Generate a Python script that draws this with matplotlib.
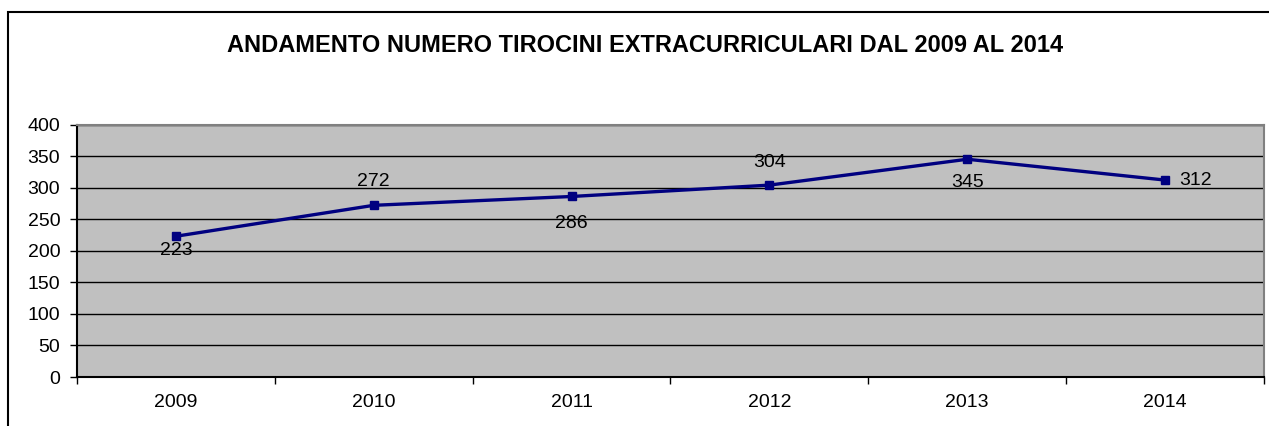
import matplotlib.pyplot as plt
from matplotlib.patches import Rectangle

years = ['2009', '2010', '2011', '2012', '2013', '2014']
tirocini = [223, 272, 286, 304, 345, 312]

# scostamento etichette (pixel): positivo = sotto il punto
label_dy = [14, -24, 27, -23, 23, 0]

plt.rcParams['font.family'] = ['Liberation Sans', 'DejaVu Sans']

fig = plt.figure(figsize=(12.69, 4.26), dpi=100)
# cornice del grafico
fig.patches.append(Rectangle((8 / 1269, -0.1), 1.2, 1.1 - 12 / 426,
                             transform=fig.transFigure, fill=False,
                             edgecolor='black', linewidth=1.5))

ax = fig.add_axes([77 / 1269, 0.115, (1264 - 77) / 1269, 0.7077 - 0.115])
ax.set_facecolor('#C0C0C0')

x = list(range(len(years)))
ax.plot(x, tirocini, color='#000080', linewidth=2.4, marker='s',
        markersize=6, zorder=3)

for xi, v, dy in zip(x, tirocini, label_dy):
    if dy == 0:
        ax.annotate(str(v), (xi, v), xytext=(14, 0), textcoords='offset pixels',
                    ha='left', va='center', fontsize=14)
    else:
        ax.annotate(str(v), (xi, v), xytext=(0, -dy), textcoords='offset pixels',
                    ha='center', va='center', fontsize=14)

ax.set_xlim(-0.5, len(years) - 0.5)
ax.set_ylim(0, 400)
ax.set_yticks(range(0, 401, 50))
ax.set_xticks(x)
ax.set_xticklabels(years)
ax.set_xticks([i - 0.5 for i in range(len(years) + 1)], minor=True)
ax.tick_params(axis='x', which='major', length=0, labelsize=14, pad=12)
ax.tick_params(axis='x', which='minor', length=5, width=1, direction='out')
ax.tick_params(axis='y', length=5, width=1, direction='out', labelsize=14, pad=7)

ax.yaxis.grid(True, color='black', linewidth=1)
ax.set_axisbelow(True)

ax.spines['left'].set_color('black')
ax.spines['bottom'].set_color('black')
ax.spines['top'].set_color('#808080')
ax.spines['right'].set_color('#808080')
for s in ax.spines.values():
    s.set_linewidth(1.5)

fig.text(0.508, 0.894, 'ANDAMENTO NUMERO TIROCINI EXTRACURRICULARI DAL 2009 AL 2014',
         ha='center', va='center', fontsize=17, fontweight='bold')

plt.savefig('out.png', dpi=100)
